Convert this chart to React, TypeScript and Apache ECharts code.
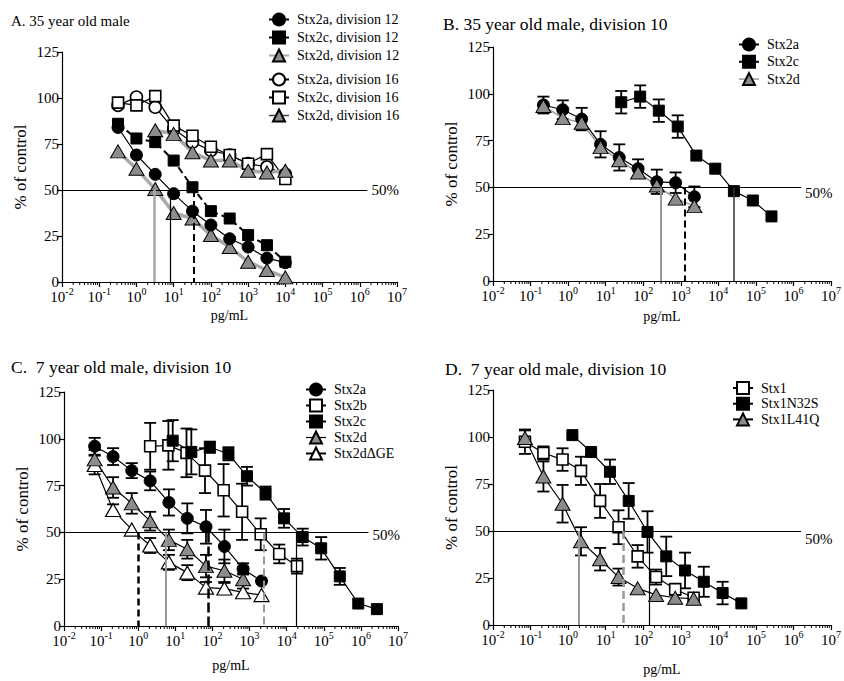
import React, { useEffect, useRef } from "react";
import * as echarts from "echarts";

const SERIF = "Liberation Serif";

// ---------- Panel A: 35 year old male (division 12 / 16)
const xA = [0.32, 1, 3.2, 10, 32, 100, 320, 1000, 3200, 10000];
const a2a12 = [84, 69, 58.5, 48, 38.5, 31, 23.5, 19, 13, 10.5];
const a2c12 = [86, 78, 76, 66, 51.5, 38.5, 34.5, 25.5, 20, 11];
const a2d12 = [71, 61.5, 50.5, 37.5, 34.5, 25.5, 19, 11, 6.5, 2.5];
const a2a16 = [96, 100.5, 95, 83, 76, 71.5, 69, 64.3, 62.5, 58.5];
const a2c16 = [97.5, 96, 101, 85, 79.5, 73.5, 69, 64.3, 69.5, 56];
const xA2d16 = [3.2, 10, 32, 100, 320, 1000, 3200, 10000];
const a2d16 = [82.5, 80.5, 70.5, 66, 66, 60.5, 59.5, 60.5];
const ic50A = [3.1, 8.2, 34];

// ---------- Panel B: 35 year old male, division 10
const xB = [0.22, 0.72, 2.3, 7.3, 23, 73, 230, 730, 2300];
const b2a = [94, 91.5, 86.5, 73, 66, 60, 53, 52.5, 45];
const b2aErr = [4.5, 5, 6, 7, 7, 5, 6.5, 5.5, 5.5];
const b2d = [93.5, 87, 84.5, 71.5, 64.5, 58, 51, 44, 40];
const xB2c = [26, 83, 260, 830, 2600, 8300, 26000, 83000, 260000];
const b2c = [95.5, 98.5, 91, 82.5, 67, 60, 48, 43, 34.5];
const b2cErr = [6, 6, 6, 6, 0, 0, 0, 0, 0];
const ic50B = [300, 1300, 26000];

// ---------- Panel C: 7 year old male, division 10
const xC = [0.067, 0.21, 0.67, 2.1, 6.7, 21, 67, 210, 670, 2100];
const c2a = [96, 90.5, 83, 77.5, 66, 57.5, 53, 42.5, 30.5, 24];
const c2aErr = [4.5, 4.5, 4, 5, 7, 8, 9, 9, 3, 0];
const c2d = [89, 74, 65.5, 56, 46, 41, 32, 29.5, 25];
const c2dErr = [5, 5.5, 5.5, 5, 5.5, 5, 6, 6, 3];
const c2dge = [86, 62, 51.5, 43, 34, 28.5, 20.5, 20, 18, 16.5];
const c2dgeErr = [5, 3, 0, 4, 4, 4, 3, 3, 2, 0];
const xC2b = [2.1, 6.5, 20, 63, 200, 630, 2000, 6300, 19000];
const c2b = [96, 96.5, 92.5, 83, 72.5, 61, 49, 38.5, 32];
const c2bErr = [12.5, 13, 13, 12, 14, 15, 8.5, 5, 4];
const xC2c = [8.5, 27, 85, 270, 850, 2700, 8500, 27000, 85000, 270000, 850000, 2700000];
const c2c = [99, 93, 95.5, 92, 80, 71, 57.5, 47.5, 41.5, 26.5, 12, 9];
const c2cErr = [11, 12, 3, 3.5, 5, 3.5, 5, 4.5, 6, 4.5, 0, 0];
const ic50C = [1, 5.5, 78, 2400, 18000];

// ---------- Panel D: 7 year old male, division 10
const xD = [0.071, 0.22, 0.71, 2.2, 7.1, 22, 71, 220, 710, 2200];
const d1 = [97.5, 91.5, 88, 82, 66, 52, 36.5, 25.5, 19, 14.5];
const d1Err = [6.5, 3.5, 6, 7.5, 9, 9, 6, 4, 3, 0];
const dL41Q = [99.5, 79, 64.5, 44.5, 35, 25.5, 19.5, 16, 14.5, 14];
const dL41QErr = [4, 8, 10, 7.5, 6, 4.5, 0, 0, 0, 0];
const xDN32S = [1.3, 4.1, 13, 41, 130, 410, 1300, 4100, 13000, 41000];
const dN32S = [101, 92, 81.5, 66, 49.5, 36.5, 29, 23, 17, 11.5];
const dN32SErr = [0, 0, 6.5, 9.5, 11, 10.5, 9.5, 8, 6, 0];
const ic50D = [1.95, 30, 148];

// axis decoration
const xMin = 0.01;
const xMax = 1e7;
const refEnd = 1.6e6;
const minorTickValues: number[] = [];
for (let e = -2; e <= 6; e++) for (let k = 2; k <= 9; k++) minorTickValues.push(k * Math.pow(10, e));

const GRIDS = [
  { left: 62, top: 52, width: 335, height: 230 },
  { left: 493, top: 47, width: 338, height: 234 },
  { left: 64, top: 392, width: 334, height: 234 },
  { left: 493, top: 390, width: 338, height: 235 },
];
const NAME_GAP_X = [26, 28, 32, 37];
const LABEL_SHIFT = [0, 6, 3, 8];

const GRAY_FILL = "#8c8c8c";

function markerStyle(kind: string) {
  switch (kind) {
    case "circle":
      return { symbol: "circle", size: 12, itemStyle: { color: "#000", borderColor: "#000", borderWidth: 1 } };
    case "ocircle":
      return { symbol: "circle", size: 12, itemStyle: { color: "#fff", borderColor: "#000", borderWidth: 1.6 } };
    case "square":
      return { symbol: "rect", size: 11, itemStyle: { color: "#000", borderColor: "#000", borderWidth: 1 } };
    case "osquare":
      return { symbol: "rect", size: 11, itemStyle: { color: "#fff", borderColor: "#000", borderWidth: 1.6 } };
    case "gtri":
      return { symbol: "triangle", size: [15, 13], itemStyle: { color: GRAY_FILL, borderColor: "#000", borderWidth: 1 } };
    default:
      return { symbol: "triangle", size: [15, 13], itemStyle: { color: "#fff", borderColor: "#000", borderWidth: 1.2 } };
  }
}

function lineSeries(p: number, name: string, xs: number[], ys: number[], kind: string, line: any, z = 4) {
  const m = markerStyle(kind);
  return {
    type: "line",
    name,
    xAxisIndex: p,
    yAxisIndex: p,
    data: xs.map((x, i) => [x, ys[i]]),
    symbol: m.symbol,
    symbolSize: m.size,
    itemStyle: m.itemStyle,
    lineStyle: line,
    z,
    emphasis: { disabled: true },
    silent: true,
  };
}

function errSeries(p: number, xs: number[], ys: number[], err: number[]) {
  const data: number[][] = [];
  xs.forEach((x, i) => {
    if (err[i] > 0) data.push([x, ys[i] - err[i], ys[i] + err[i]]);
  });
  return {
    type: "custom",
    xAxisIndex: p,
    yAxisIndex: p,
    data,
    z: 3,
    silent: true,
    encode: { x: 0, y: [1, 2] },
    renderItem: (params: any, api: any) => {
      const x = api.value(0);
      const lo = api.coord([x, api.value(1)]);
      const hi = api.coord([x, api.value(2)]);
      const w = 6;
      const style = { stroke: "#000", lineWidth: 1.8 };
      return {
        type: "group",
        children: [
          { type: "line", shape: { x1: lo[0], y1: lo[1], x2: hi[0], y2: hi[1] }, style },
          { type: "line", shape: { x1: hi[0] - w, y1: hi[1], x2: hi[0] + w, y2: hi[1] }, style },
          { type: "line", shape: { x1: lo[0] - w, y1: lo[1], x2: lo[0] + w, y2: lo[1] }, style },
        ],
      };
    },
  };
}

function refSeries(p: number, xs: number[], styles: any[]) {
  const shift = LABEL_SHIFT[p];
  return {
    type: "custom",
    xAxisIndex: p,
    yAxisIndex: p,
    silent: true,
    z: 2,
    data: minorTickValues.map((v) => [v, 0]),
    encode: { x: 0, y: 1 },
    renderItem: (params: any, api: any) => {
      const pt = api.coord([api.value(0), 0]);
      return {
        type: "line",
        shape: { x1: pt[0], y1: pt[1], x2: pt[0], y2: pt[1] + 3 },
        style: { stroke: "#000", lineWidth: 1 },
      };
    },
    markLine: {
      symbol: ["none", "none"],
      silent: true,
      animation: false,
      emphasis: { disabled: true },
      label: { show: false },
      data: [
        [
          {
            coord: [xMin, 50],
            lineStyle: { color: "#000", width: 1.2, type: "solid" },
            label: {
              show: true,
              position: "end",
              formatter: "{p|50%}",
              distance: 4,
              rich: {
                p: {
                  color: "#000",
                  fontFamily: SERIF,
                  fontSize: 15,
                  padding: [shift * 2, 0, 0, 0],
                },
              },
            },
          },
          { coord: [refEnd, 50] },
        ],
        ...xs.map((x, i) => [
          { coord: [x, 50], lineStyle: styles[i] },
          { coord: [x, 0] },
        ]),
      ],
    },
  };
}

const BLACK = { color: "#000", width: 1.2, type: "solid" };
const GRAYLINE = { color: "#a8a8a8", width: 3.5, type: "solid" };

function buildOption() {
  const series: any[] = [];

  // Panel A
  series.push(
    refSeries(0, ic50A, [
      { color: "#a8a8a8", width: 2.5, type: "solid" },
      { color: "#000", width: 1.2, type: "solid" },
      { color: "#000", width: 2, type: [7, 4] },
    ])
  );
  series.push(lineSeries(0, "Stx2a, division 16", xA, a2a16, "ocircle", BLACK));
  series.push(lineSeries(0, "Stx2c, division 16", xA, a2c16, "osquare", BLACK));
  series.push(lineSeries(0, "Stx2d, division 16", xA2d16, a2d16, "gtri", GRAYLINE));
  series.push(lineSeries(0, "Stx2d, division 12", xA, a2d12, "gtri", GRAYLINE));
  series.push(lineSeries(0, "Stx2c, division 12", xA, a2c12, "square", { color: "#000", width: 2, type: [7, 4] }));
  series.push(lineSeries(0, "Stx2a, division 12", xA, a2a12, "circle", BLACK));

  // Panel B
  series.push(
    refSeries(1, ic50B, [
      { color: "#999", width: 2, type: "solid" },
      { color: "#000", width: 2, type: [7, 4] },
      { color: "#333", width: 1.5, type: "solid" },
    ])
  );
  series.push(errSeries(1, xB, b2a, b2aErr));
  series.push(errSeries(1, xB2c, b2c, b2cErr));
  series.push(lineSeries(1, "Stx2a", xB, b2a, "circle", BLACK));
  series.push(lineSeries(1, "Stx2d", xB, b2d, "gtri", { color: "#999", width: 1.5, type: "solid" }));
  series.push(lineSeries(1, "Stx2c", xB2c, b2c, "square", BLACK));

  // Panel C
  series.push(
    refSeries(2, ic50C, [
      { color: "#000", width: 2.5, type: [7, 4] },
      { color: "#999", width: 2, type: "solid" },
      { color: "#000", width: 2.5, type: [10, 4] },
      { color: "#999", width: 2, type: [8, 4] },
      { color: "#000", width: 1.2, type: "solid" },
    ])
  );
  series.push(errSeries(2, xC, c2a, c2aErr));
  series.push(errSeries(2, xC, c2d, c2dErr));
  series.push(errSeries(2, xC, c2dge, c2dgeErr));
  series.push(errSeries(2, xC2b, c2b, c2bErr));
  series.push(errSeries(2, xC2c, c2c, c2cErr));
  series.push(lineSeries(2, "Stx2dΔGE", xC, c2dge, "wtri", BLACK));
  series.push(lineSeries(2, "Stx2d", xC.slice(0, c2d.length), c2d, "gtri", BLACK));
  series.push(lineSeries(2, "Stx2a", xC, c2a, "circle", BLACK));
  series.push(lineSeries(2, "Stx2b", xC2b, c2b, "osquare", BLACK));
  series.push(lineSeries(2, "Stx2c", xC2c, c2c, "square", BLACK));

  // Panel D
  series.push(
    refSeries(3, ic50D, [
      { color: "#999", width: 2, type: "solid" },
      { color: "#999", width: 2.5, type: [8, 4] },
      { color: "#000", width: 1.2, type: "solid" },
    ])
  );
  series.push(errSeries(3, xD, d1, d1Err));
  series.push(errSeries(3, xD, dL41Q, dL41QErr));
  series.push(errSeries(3, xDN32S, dN32S, dN32SErr));
  series.push(lineSeries(3, "Stx1", xD, d1, "osquare", BLACK));
  series.push(lineSeries(3, "Stx1L41Q", xD, dL41Q, "gtri", BLACK));
  series.push(lineSeries(3, "Stx1N32S", xDN32S, dN32S, "square", BLACK));

  const axisLine = { show: true, onZero: false, lineStyle: { color: "#000", width: 1.2 } };
  const xAxis = GRIDS.map((g, i) => ({
    gridIndex: i,
    type: "log",
    logBase: 10,
    min: xMin,
    max: xMax,
    axisLine,
    axisTick: { show: true, length: 5, lineStyle: { color: "#000", width: 1.2 } },
    splitLine: { show: false },
    axisLabel: {
      interval: 0,
      margin: 4,
      color: "#000",
      fontFamily: SERIF,
      fontSize: 15,
      formatter: (v: number) => `{b|10}{s|${Math.round(Math.log10(v))}}`,
      rich: {
        b: { fontFamily: SERIF, fontSize: 15, color: "#000", lineHeight: 18, verticalAlign: "bottom" },
        s: { fontFamily: SERIF, fontSize: 10, color: "#000", lineHeight: 9, verticalAlign: "top" },
      },
    },
    name: "pg/mL",
    nameLocation: "middle",
    nameGap: NAME_GAP_X[i],
    nameTextStyle: { fontFamily: SERIF, fontSize: 14, color: "#000" },
  }));
  const yAxis = GRIDS.map((g, i) => ({
    gridIndex: i,
    type: "value",
    min: 0,
    max: 125,
    interval: 25,
    axisLine,
    axisTick: { show: true, length: 5, lineStyle: { color: "#000", width: 1.2 } },
    splitLine: { show: false },
    axisLabel: { color: "#000", fontFamily: SERIF, fontSize: 15, margin: 3 },
    name: "% of control",
    nameLocation: "middle",
    nameGap: 33,
    nameTextStyle: { fontFamily: SERIF, fontSize: 17, color: "#000" },
  }));

  const legendBase = {
    orient: "vertical",
    itemWidth: 20,
    itemHeight: 15,
    padding: 0,
    selectedMode: false,
    textStyle: { fontFamily: SERIF, fontSize: 14, color: "#000", padding: [0, 0, 0, 3] },
  };

  const titleStyle = (size: number) => ({ fontFamily: SERIF, fontSize: size, fontWeight: "normal", color: "#000" });

  return {
    animation: false,
    backgroundColor: "#fff",
    textStyle: { fontFamily: SERIF },
    title: [
      { text: "A. 35 year old male", left: 11, top: 13, padding: 0, textStyle: titleStyle(15) },
      { text: "B. 35 year old male, division 10", left: 443, top: 15, padding: 0, textStyle: titleStyle(17.5) },
      { text: "C.  7 year old male, division 10", left: 11, top: 358, padding: 0, textStyle: titleStyle(17.5) },
      { text: "D.  7 year old male, division 10", left: 445, top: 360, padding: 0, textStyle: titleStyle(17.5) },
    ],
    legend: [
      {
        ...legendBase,
        left: 268,
        top: 12.5,
        itemGap: 4,
        data: [
          "Stx2a, division 12",
          { name: "Stx2c, division 12", lineStyle: { type: "solid", width: 2 } },
          "Stx2d, division 12",
        ],
      },
      {
        ...legendBase,
        left: 268,
        top: 72.5,
        itemGap: 4,
        data: [
          "Stx2a, division 16",
          "Stx2c, division 16",
          { name: "Stx2d, division 16", lineStyle: { color: "#444", width: 1.5 } },
        ],
      },
      { ...legendBase, left: 738, top: 37.5, itemGap: 3.3, data: ["Stx2a", "Stx2c", { name: "Stx2d", lineStyle: { color: "#999", width: 1.5 } }] },
      {
        ...legendBase,
        left: 305,
        top: 382.5,
        itemGap: 2,
        data: ["Stx2a", "Stx2b", "Stx2c", { name: "Stx2d", lineStyle: { color: "#000", width: 1.2 } }, "Stx2dΔGE"],
      },
      { ...legendBase, left: 732, top: 381, itemGap: 1.7, data: ["Stx1", "Stx1N32S", "Stx1L41Q"] },
    ],
    grid: GRIDS.map((g) => ({ ...g, containLabel: false })),
    xAxis,
    yAxis,
    series,
  };
}

export default function App() {
  const ref = useRef<HTMLDivElement>(null);
  useEffect(() => {
    if (!ref.current) return;
    const chart = echarts.init(ref.current, undefined, { renderer: "svg" });
    chart.setOption(buildOption() as any);
    return () => chart.dispose();
  }, []);
  return (
    <div
      ref={ref}
      style={{ position: "absolute", left: 0, top: 0, width: 844, height: 681, background: "#fff" }}
    />
  );
}
